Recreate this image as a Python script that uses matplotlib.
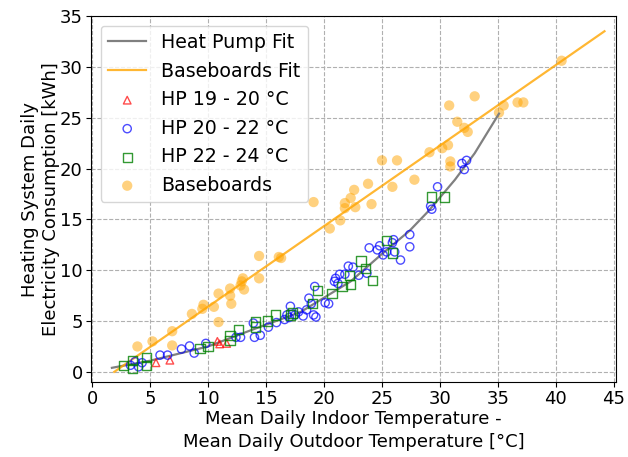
'''
Heating system daily electricity use vs indoor-outdoor temperature difference
'''

import matplotlib
matplotlib.use('Agg')
import matplotlib.pyplot as plt

# heat pump, setpoint 19 - 20 C
hp19_dt = [5.5, 6.7, 10.8, 11.0, 11.6]
hp19_e = [0.9, 1.15, 3.0, 2.75, 2.8]

# heat pump, setpoint 20 - 22 C
hp20_dt = [3.3, 3.7, 4.0, 4.3, 5.85, 6.5, 7.7, 8.4, 8.8, 9.8, 12.4, 12.8, 13.9, 14.0, 14.5,
           15.2, 15.9, 16.6, 17.0, 17.1, 16.8, 17.5, 17.8, 18.2, 18.5, 18.7, 18.9, 19.1, 19.3,
           19.2, 20.1, 20.4, 20.9, 21.0, 21.2, 21.35, 21.8, 22.1, 22.5, 23.0, 23.7, 23.9, 24.6,
           24.8, 25.1, 25.4, 25.9, 26.0, 26.1, 26.6, 27.4, 27.4, 29.2, 29.3, 29.8, 31.9, 32.1, 32.3]
hp20_e = [0.65, 1.0, 0.5, 0.9, 1.65, 1.65, 2.25, 2.55, 1.85, 2.8, 3.4, 3.4, 4.8, 3.4, 3.6,
          4.4, 4.85, 5.15, 5.35, 6.45, 5.6, 5.6, 5.9, 5.5, 6.1, 7.25, 6.7, 5.6, 5.4,
          8.4, 6.8, 6.7, 8.9, 9.2, 8.7, 9.6, 9.6, 10.4, 10.3, 9.5, 9.7, 12.2, 12.0,
          12.4, 11.5, 11.8, 12.7, 13.0, 11.8, 11.0, 13.5, 12.3, 16.3, 16.0, 18.2, 20.5, 19.9, 20.8]

# heat pump, setpoint 22 - 24 C
hp22_dt = [2.7, 3.45, 3.45, 4.7, 4.7, 9.3, 10.0, 11.9, 11.9, 12.6, 14.1, 14.1, 15.1, 15.8,
           17.1, 17.3, 19.0, 19.45, 20.7, 21.55, 22.2, 22.3, 23.2, 23.6, 24.2, 25.4, 25.9,
           29.3, 30.4]
hp22_e = [0.6, 1.15, 0.3, 1.4, 0.6, 2.3, 2.5, 3.6, 3.1, 4.2, 4.9, 4.4, 5.0, 5.6,
          5.6, 5.8, 6.7, 8.0, 7.7, 8.4, 9.5, 8.6, 10.9, 10.2, 9.0, 12.9, 11.7,
          17.2, 17.2]

# baseboards
bb_dt = [3.9, 5.2, 6.9, 6.9, 8.6, 9.5, 9.6, 10.5, 10.9, 10.9, 11.9, 11.9, 12.0, 12.8, 13.0,
         12.9, 13.1, 14.4, 14.4, 16.1, 16.3, 19.1, 20.5, 21.4, 21.8, 21.8, 22.3, 22.6, 22.7,
         23.8, 24.1, 25.0, 26.3, 25.9, 27.8, 29.1, 30.2, 30.7, 30.9, 30.9, 30.8, 31.5, 32.1,
         32.4, 33.0, 35.1, 35.5, 36.7, 37.2, 40.5]
bb_e = [2.5, 3.0, 4.0, 2.6, 5.7, 6.2, 6.6, 6.4, 4.9, 7.7, 8.2, 7.5, 6.7, 8.5, 9.2,
        8.9, 8.1, 9.2, 11.4, 11.3, 11.2, 16.7, 14.1, 14.9, 16.6, 16.1, 17.1, 17.9, 16.2,
        18.5, 16.5, 20.8, 20.8, 18.2, 18.9, 21.6, 22.0, 22.3, 20.7, 20.2, 26.2, 24.6, 24.0,
        23.6, 27.1, 25.5, 26.2, 26.5, 26.5, 30.6]

# fitted curves
hp_fit_dt = [1.7, 5.0, 10.0, 13.7, 18.0, 22.3, 25.0, 27.4, 29.0, 31.3, 33.0, 35.1]
hp_fit_e = [0.4, 1.1, 2.5, 4.1, 5.9, 8.9, 11.6, 13.9, 15.8, 18.9, 21.5, 25.4]
bb_fit_dt = [1.9, 44.2]
bb_fit_e = [0.0, 33.5]


def main():
    plt.rcParams['font.size'] = 13
    fig = plt.figure(figsize=(6.28, 4.57), dpi=100)
    ax = fig.add_axes([0.145, 0.164, 0.836, 0.801])

    ax.plot(hp_fit_dt, hp_fit_e, color='gray', lw=1.6, label='Heat Pump Fit', zorder=3)
    ax.plot(bb_fit_dt, bb_fit_e, color='orange', lw=1.6, alpha=0.8, label='Baseboards Fit', zorder=3)
    ax.scatter(hp19_dt, hp19_e, marker='^', facecolors='none', edgecolors='r', s=30,
               alpha=0.7, label='HP 19 - 20 °C', zorder=4)
    ax.scatter(hp20_dt, hp20_e, marker='o', facecolors='none', edgecolors='b', s=35,
               alpha=0.7, label='HP 20 - 22 °C', zorder=4)
    ax.scatter(hp22_dt, hp22_e, marker='s', facecolors='none', edgecolors='g', s=45,
               alpha=0.8, label='HP 22 - 24 °C', zorder=4)
    ax.scatter(bb_dt, bb_e, marker='o', color='orange', s=55, alpha=0.5,
               edgecolors='none', label='Baseboards', zorder=2)

    ax.set_xlim(-0.1, 45.2)
    ax.set_ylim(-1, 35)
    ax.set_xticks(range(0, 50, 5))
    ax.set_yticks(range(0, 40, 5))
    ax.tick_params(pad=2.5)
    ax.grid(linestyle='--', color='#b0b0b0')
    ax.set_axisbelow(True)
    ax.set_xlabel('Mean Daily Indoor Temperature -\nMean Daily Outdoor Temperature [°C]',
                  labelpad=1, linespacing=1.4)
    ax.set_ylabel('Heating System Daily\nElectricity Consumption [kWh]', labelpad=0)
    ax.legend(loc='upper left', fontsize=13.7)

    fig.savefig('out.png', dpi=100)


main()
